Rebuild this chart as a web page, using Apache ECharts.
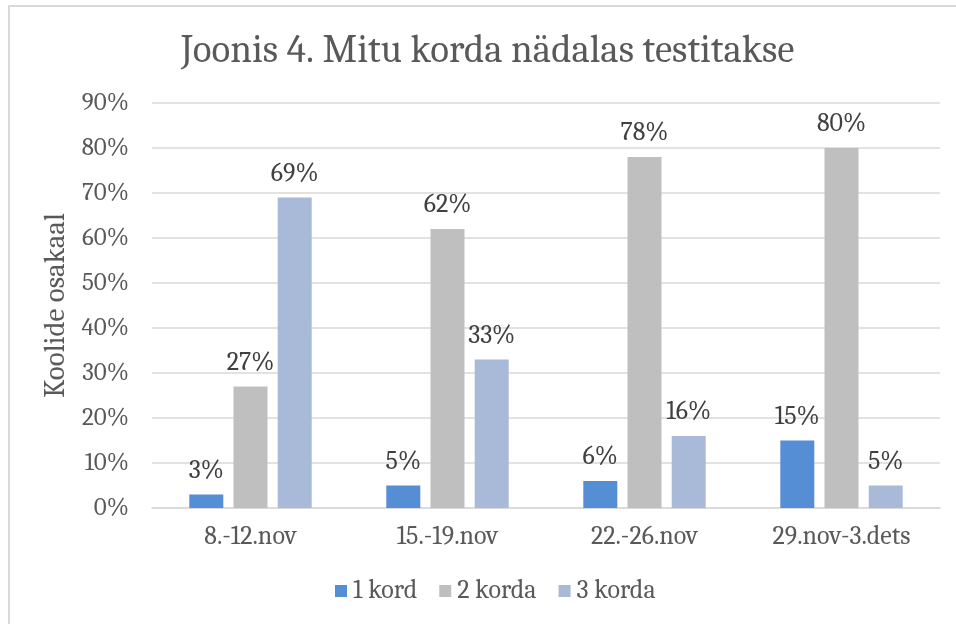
<!DOCTYPE html>
<html><head><meta charset="utf-8">
<script src="https://cdn.jsdelivr.net/npm/echarts@6/dist/echarts.min.js"></script>
<style>html,body{margin:0;padding:0;background:#fff}#c{width:956px;height:624px}</style>
</head><body><div id="c"></div>
<script>
const categories = ['8.-12.nov', '15.-19.nov', '22.-26.nov', '29.nov-3.dets'];
const seriesNames = ['1 kord', '2 korda', '3 korda'];
const kord1 = [3, 5, 6, 15];
const korda2 = [27, 62, 78, 80];
const korda3 = [69, 33, 16, 5];
const yTicks = [0, 10, 20, 30, 40, 50, 60, 70, 80, 90];

const colors = ['#558ed5', '#bfbfbf', '#a9b9d8'];
const serif = 'Cambria, Caladea, "DejaVu Serif", serif';
const chart = echarts.init(document.getElementById('c'), null, {renderer: 'canvas'});
const vals = [kord1, korda2, korda3];
chart.setOption({
  animation: false,
  color: colors,
  title: {
    text: 'Joonis 4. Mitu korda nädalas testitakse',
    left: 176, top: 26,
    textStyle: {fontFamily: serif, fontWeight: 'normal', fontSize: 39, color: '#595959'}
  },
  graphic: [{
    type: 'rect', shape: {x: 9, y: 6, width: 1000, height: 700},
    style: {fill: 'none', stroke: '#d9d9d9', lineWidth: 2}, silent: true
  }],
  legend: {
    bottom: 15, left: 330, itemWidth: 12, itemHeight: 12, itemGap: 22,
    icon: 'rect',
    textStyle: {fontFamily: serif, fontSize: 26, color: '#595959', padding: [0, 0, 0, 1]},
    data: seriesNames
  },
  grid: {left: 152, right: 16, top: 103, bottom: 116},
  xAxis: {
    type: 'category', data: categories,
    axisLine: {lineStyle: {color: '#d9d9d9', width: 1.5}},
    axisTick: {show: false},
    axisLabel: {fontFamily: serif, fontSize: 26, color: '#595959', margin: 16}
  },
  yAxis: {
    type: 'value', min: yTicks[0], max: yTicks[yTicks.length - 1], interval: 10,
    name: 'Koolide osakaal', nameLocation: 'middle', nameGap: 78,
    nameTextStyle: {fontFamily: serif, fontSize: 29, color: '#595959'},
    axisLine: {show: false}, axisTick: {show: false},
    axisLabel: {fontFamily: serif, fontSize: 25, color: '#595959', margin: 23, formatter: v => v + '%'},
    splitLine: {lineStyle: {color: '#d9d9d9', width: 1.5}}
  },
  series: seriesNames.map((n, i) => ({
    name: n, type: 'bar', data: vals[i], barWidth: 34, barGap: '30%',
    label: {show: true, position: 'top', distance: 11, formatter: p => p.value + '%',
      fontFamily: serif, fontSize: 26, color: '#404040'}
  }))
});
</script></body></html>
